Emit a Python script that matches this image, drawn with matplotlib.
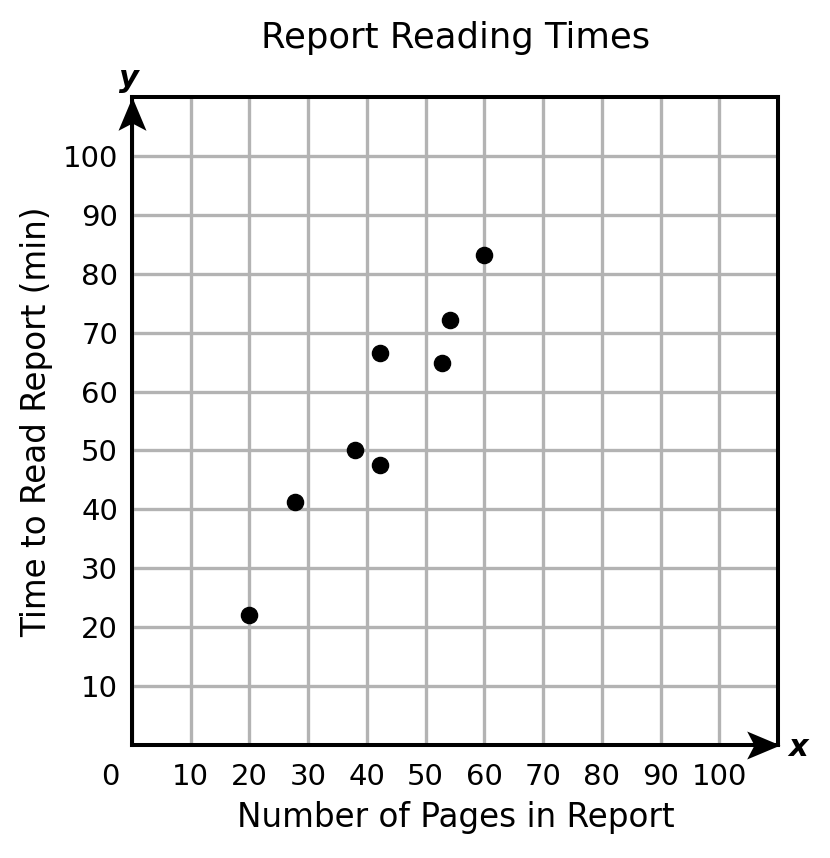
import matplotlib.pyplot as plt
import matplotlib.transforms as mtransforms
from matplotlib.path import Path

pages = [20, 27.7, 38, 42.2, 42.2, 52.8, 54.2, 60]
minutes = [22.1, 41.3, 50, 47.5, 66.5, 64.8, 72.2, 83.1]

ticks = list(range(0, 101, 10))
grid_col = '#b3b3b3'

fig = plt.figure(figsize=(8.3, 8.58), dpi=100)
ax = fig.add_axes([132 / 830, 1 - 745 / 858, 646 / 830, 648 / 858])

ax.set_xlim(0, 110)
ax.set_ylim(0, 110)

ax.set_xticks(ticks)
ax.set_xticklabels([str(t) for t in ticks])
ax.set_yticks(ticks[1:])
ax.set_yticklabels([str(t) for t in ticks[1:]])
ax.tick_params(length=0, labelsize=21)
ax.tick_params(axis='y', pad=10)
ax.tick_params(axis='x', pad=13)

# the "0" sits left of the origin in the original
lbl0 = ax.get_xticklabels()[0]
lbl0.set_transform(lbl0.get_transform() +
                   mtransforms.ScaledTranslation(-22 / 100, 0, fig.dpi_scale_trans))

ax.grid(True, color=grid_col, linewidth=2.4)
ax.set_axisbelow(True)
for s in ax.spines.values():
    s.set_linewidth(2.9)
    s.set_color('black')

ax.scatter(pages, minutes, s=135, color='black', zorder=3, clip_on=False)

# notched arrow heads at the ends of the axes (tip at the path origin)
up = Path([(0, 0), (-0.42, -1), (0, -0.78), (0.42, -1), (0, 0)],
          [Path.MOVETO, Path.LINETO, Path.LINETO, Path.LINETO, Path.CLOSEPOLY])
right = Path([(0, 0), (-1, 0.42), (-0.78, 0), (-1, -0.42), (0, 0)],
             [Path.MOVETO, Path.LINETO, Path.LINETO, Path.LINETO, Path.CLOSEPOLY])
ax.plot([0], [110], marker=up, markersize=48, color='black', mew=0,
        clip_on=False, zorder=5)
ax.plot([110.3], [0], marker=right, markersize=48, color='black', mew=0,
        clip_on=False, zorder=5)

ax.text(-0.5, 113.2, 'y', fontsize=22, fontweight='bold', style='italic',
        ha='center', va='center', clip_on=False)
ax.text(113.5, -0.5, 'x', fontsize=22, fontweight='bold', style='italic',
        ha='center', va='center', clip_on=False)

fig.text(456 / 830, 1 - 38 / 858, 'Report Reading Times', fontsize=25.5,
         ha='center', va='center')
fig.text(456 / 830, 1 - 817 / 858, 'Number of Pages in Report', fontsize=23.5,
         ha='center', va='center')
fig.text(37 / 830, 1 - 422 / 858, 'Time to Read Report (min)', fontsize=23.5,
         ha='center', va='center', rotation=90)

fig.savefig('out.png', dpi=100)
